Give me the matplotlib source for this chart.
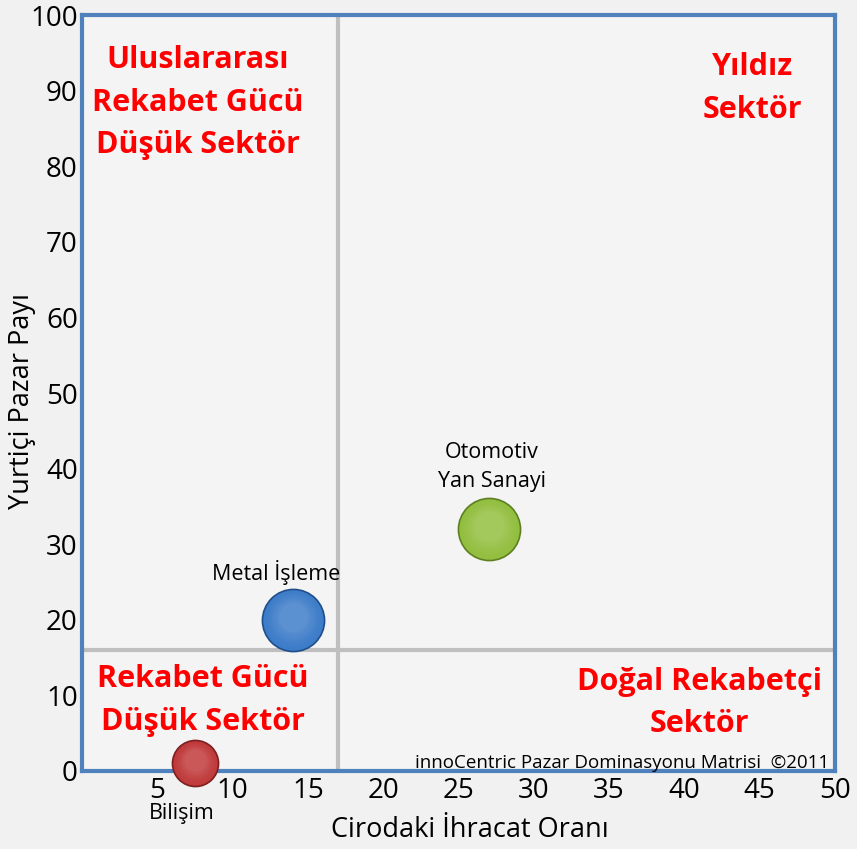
import matplotlib
matplotlib.use("Agg")
import matplotlib.pyplot as plt
import matplotlib.transforms as mtransforms
import numpy as np

plt.rcParams['font.family'] = ['Open Sans', 'DejaVu Sans']

# data
sectors = ["Bilişim", "Metal İşleme", "Otomotiv\nYan Sanayi"]
export_ratio = [7.5, 14, 27]       # Cirodaki İhracat Oranı
domestic_share = [1, 20, 32]       # Yurtiçi Pazar Payı
bubble_size = [55, 100, 100]
bubble_colors = ["#c0393a", "#3d7cc9", "#92bf3f"]
edge_colors = ["#7d1f1f", "#1f4f8a", "#5d7f22"]

x_split = 17
y_split = 16

xticks = [5, 10, 15, 20, 25, 30, 35, 40, 45, 50]
yticks = [0, 10, 20, 30, 40, 50, 60, 70, 80, 90, 100]

quadrant_labels = ["Uluslararası\nRekabet Gücü\nDüşük Sektör", "Yıldız\nSektör",
                   "Rekabet Gücü\nDüşük Sektör", "Doğal Rekabetçi\nSektör"]
quadrant_pos = [(7.7, 88.4), (44.5, 90.3), (8.0, 9.3), (41.0, 9.0)]

# label anchor offsets (x, y) relative to each bubble
label_offsets = [(-0.9, -6.6), (-1.1, 6.3), (0.2, 8.2)]

fig = plt.figure(figsize=(8.57, 8.49), dpi=100, facecolor="#f1f1f1")
ax = fig.add_axes([0.0957, 0.0919, 0.8786, 0.8904])
ax.set_facecolor("#f4f4f4")
ax.set_xlim(0, 50)
ax.set_ylim(0, 100)

for s in ax.spines.values():
    s.set_color("#4f81bd")
    s.set_linewidth(3)

ax.set_xticks(xticks)
ax.set_yticks(yticks)
ax.tick_params(length=0, labelsize=20, pad=3)
ax.tick_params(axis='x', pad=4)

# divider lines
ax.axvline(x_split, color="#bfbfbf", lw=3, zorder=1)
ax.axhline(y_split, color="#bfbfbf", lw=3, zorder=1)

# bubbles with simple shading
sizes = np.array(bubble_size) * 20
for i in range(len(sectors)):
    ax.scatter(export_ratio[i], domestic_share[i], s=sizes[i], color=bubble_colors[i],
               edgecolors=edge_colors[i], linewidths=1.2, zorder=3, clip_on=False)
    base = np.array(matplotlib.colors.to_rgb(bubble_colors[i]))
    n = 8
    for k in range(1, n):
        f = k / n
        col = base + (1 - base) * 0.25 * f
        tr = mtransforms.offset_copy(ax.transData, fig=fig, x=0, y=2.5 * f, units='points')
        ax.scatter(export_ratio[i], domestic_share[i], s=sizes[i] * (1 - 0.6 * f) ** 2,
                   color=col, alpha=0.35, linewidths=0, zorder=4, transform=tr, clip_on=False)

# bubble labels
for i, lab in enumerate(sectors):
    dx, dy = label_offsets[i]
    ax.text(export_ratio[i] + dx, domestic_share[i] + dy, lab, ha="center", va="center",
            fontsize=15.5, linespacing=1.45, clip_on=False)

# quadrant labels
for lab, (qx, qy) in zip(quadrant_labels, quadrant_pos):
    ax.text(qx, qy, lab, ha="center", va="center", color="#ff0000", fontsize=22,
            fontweight="bold", linespacing=1.55)

ax.text(49.6, 0.45, "innoCentric Pazar Dominasyonu Matrisi  ©2011", ha="right", va="baseline",
        fontsize=13.5)

ax.set_xlabel("Cirodaki İhracat Oranı", fontsize=19.5, va="center")
ax.xaxis.set_label_coords(0.515, -0.078)
ax.set_ylabel("Yurtiçi Pazar Payı", fontsize=19.5, va="center")
ax.yaxis.set_label_coords(-0.080, 0.49)

fig.savefig("out.png", dpi=100, facecolor=fig.get_facecolor())
